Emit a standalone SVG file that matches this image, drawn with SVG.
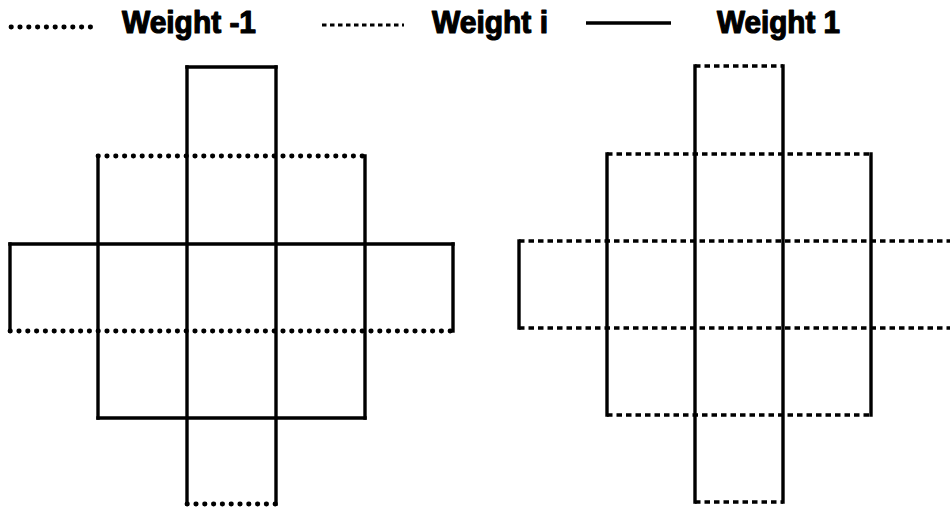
<svg xmlns="http://www.w3.org/2000/svg" width="950" height="507" viewBox="0 0 950 507">
<style>
  .solid{stroke:#000;stroke-width:3.4;fill:none;stroke-linecap:square}
  .dot{stroke:#000;stroke-width:4.8;fill:none;stroke-linecap:round;stroke-dasharray:0.4 8.4}
  .dash{stroke:#000;stroke-width:3.4;fill:none;stroke-linecap:butt;stroke-dasharray:5.5 4}
  .lbl{font-family:"Liberation Sans",Arial,sans-serif;font-weight:bold;font-size:31px;fill:#000;stroke:#000;stroke-width:1.2;stroke-linejoin:round}
</style>
<rect width="950" height="507" fill="#fff"/>
<g id="legend">
  <line class="dot" x1="11" y1="27" x2="96" y2="27"/>
  <text class="lbl" x="122" y="33" textLength="134" lengthAdjust="spacingAndGlyphs">Weight -1</text>
  <line class="dash" x1="322" y1="25" x2="404" y2="25" style="stroke-width:2.8;stroke-dasharray:4.5 3.5"/>
  <text class="lbl" x="432" y="33" textLength="116" lengthAdjust="spacingAndGlyphs">Weight i</text>
  <line class="solid" x1="586" y1="23" x2="671" y2="23" style="stroke-linecap:butt"/>
  <text class="lbl" x="717" y="33" textLength="123" lengthAdjust="spacingAndGlyphs">Weight 1</text>
</g>
<g id="left-figure">
  <g id="left-solid">
    <line class="solid" x1="187" y1="67" x2="276" y2="67"/>
    <line class="solid" x1="10" y1="244" x2="453" y2="244"/>
    <line class="solid" x1="98" y1="418" x2="365" y2="418"/>
    <line class="solid" x1="10" y1="244" x2="10" y2="331"/>
    <line class="solid" x1="98" y1="156" x2="98" y2="418"/>
    <line class="solid" x1="187" y1="67" x2="187" y2="504"/>
    <line class="solid" x1="276" y1="67" x2="276" y2="504"/>
    <line class="solid" x1="365" y1="156" x2="365" y2="418"/>
    <line class="solid" x1="453" y1="244" x2="453" y2="331"/>
  </g>
  <g id="left-dotted">
    <line class="dot" x1="98" y1="156" x2="365" y2="156"/>
    <line class="dot" x1="10" y1="331" x2="453" y2="331"/>
    <line class="dot" x1="187" y1="504" x2="276" y2="504"/>
  </g>
</g>
<g id="right-figure">
  <g id="right-solid">
    <line class="solid" x1="519" y1="241" x2="519" y2="328"/>
    <line class="solid" x1="607" y1="154" x2="607" y2="415"/>
    <line class="solid" x1="695" y1="66" x2="695" y2="502"/>
    <line class="solid" x1="783" y1="66" x2="783" y2="502"/>
    <line class="solid" x1="871" y1="154" x2="871" y2="415"/>
  </g>
  <g id="right-dashed">
    <line class="dash" x1="695" y1="66" x2="783" y2="66"/>
    <line class="dash" x1="607" y1="154" x2="871" y2="154"/>
    <line class="dash" x1="519" y1="241" x2="959" y2="241"/>
    <line class="dash" x1="519" y1="328" x2="959" y2="328"/>
    <line class="dash" x1="607" y1="415" x2="871" y2="415"/>
    <line class="dash" x1="695" y1="502" x2="783" y2="502"/>
  </g>
</g>
</svg>
